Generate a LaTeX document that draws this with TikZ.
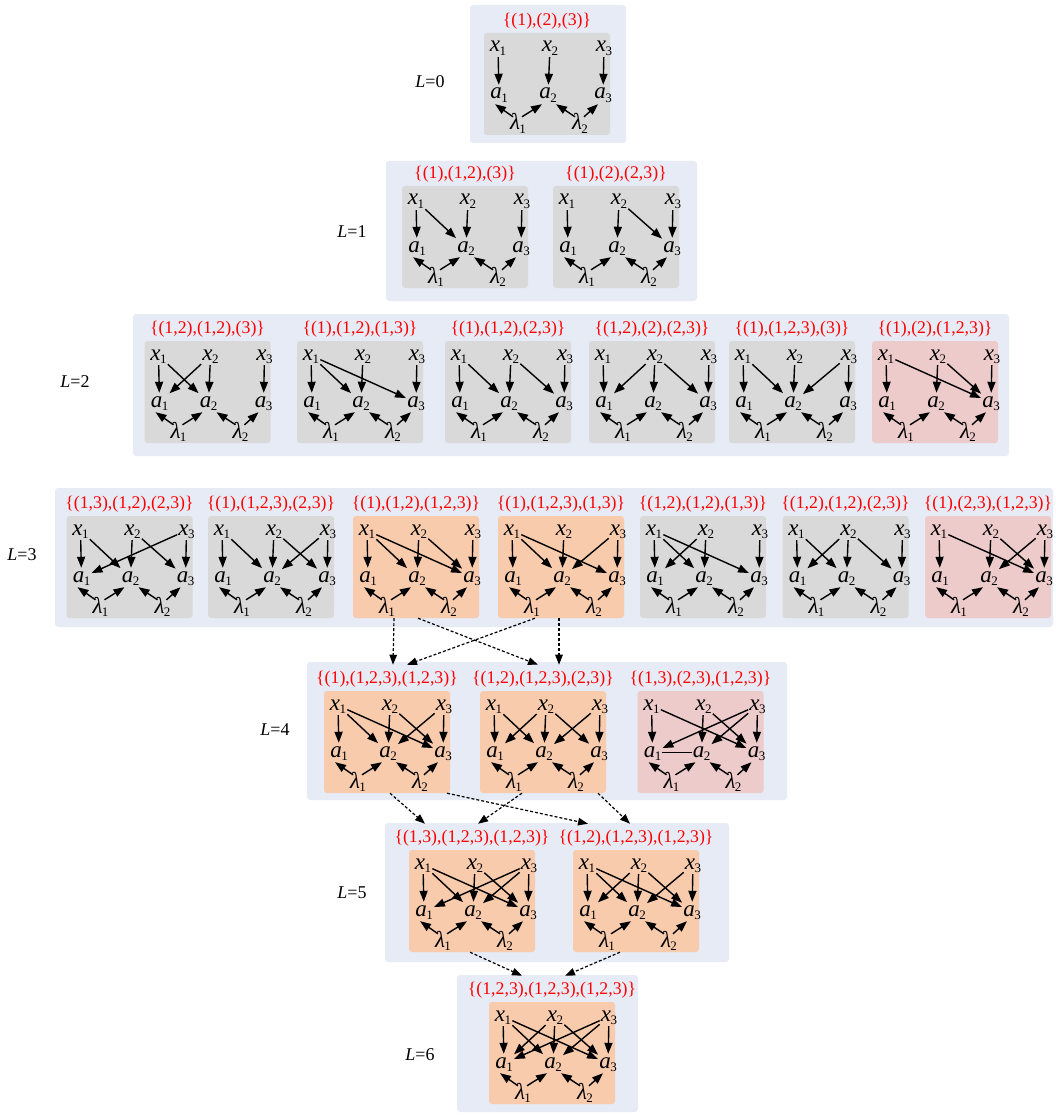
\documentclass[tikz,border=0pt]{standalone}
\usepackage{fontspec}
\setmainfont{Liberation Serif}
\usetikzlibrary{arrows.meta}

\definecolor{panelblue}{HTML}{E6EBF5}
\definecolor{cardgray}{HTML}{D9D9D9}
\definecolor{cardorange}{HTML}{F8CBAD}
\definecolor{cardpink}{HTML}{EDCBCB}

% variable with a small index
\newcommand{\vn}[2]{\textit{#1}\kern-0.5pt{\fontsize{13}{13}\selectfont\raisebox{-3.5pt}{#2}}}

\tikzset{
  panel/.style={fill=panelblue,rounded corners=3pt},
  card/.style={minimum width=126pt,minimum height=102pt,inner sep=0pt,rounded corners=3pt},
  greycard/.style={fill=cardgray},
  peachcard/.style={fill=cardorange},
  pinkcard/.style={fill=cardpink},
  tag/.style={text=red,font=\fontsize{17.8}{17.8}\selectfont,inner sep=1pt},
  var/.style={font=\fontsize{23}{23}\selectfont,inner sep=1pt,text height=13pt,text depth=4pt},
  gvar/.style={var,text height=12pt},
  lev/.style={font=\fontsize{18}{18}\selectfont},
  link/.style={-{Triangle[length=11pt,width=8pt]},line width=1.4pt},
  hop/.style={-{Triangle[length=10pt,width=7.5pt]},line width=1.2pt,dash pattern=on 3pt off 2pt},
}

% #1 name, #2 centre x, #3 top y, #4 fill, #5 tag, #6 x->a links
\newcommand{\gcard}[6]{%
  \node[card,#4] (#1) at (#2,#3+51) {};
  \node[tag] (#1t) at (#2,#3-12) {#5};
  \node[var] (#1x1) at (#2-49,#3+14.5) {\vn{x}{1}};
  \node[var] (#1x2) at (#2+3,#3+14.5) {\vn{x}{2}};
  \node[var] (#1x3) at (#2+57,#3+14.5) {\vn{x}{3}};
  \node[var] (#1a1) at (#2-48,#3+61.5) {\vn{a}{1}};
  \node[var] (#1a2) at (#2+1,#3+61.5) {\vn{a}{2}};
  \node[var] (#1a3) at (#2+56,#3+61.5) {\vn{a}{3}};
  \node[gvar] (#1l1) at (#2-29,#3+93) {\vn{λ}{1}};
  \node[gvar] (#1l2) at (#2+33,#3+93) {\vn{λ}{2}};
  \foreach \p/\q in {#6} \draw[link] (#1x\p) -- (#1a\q);
  \draw[link] ([xshift=-5pt]#1l1.north) -- ([xshift=-4pt]#1a1.south);
  \draw[link] ([xshift=4pt]#1l1.north) -- ([xshift=-6pt]#1a2.south);
  \draw[link] ([xshift=-5pt]#1l2.north) -- ([xshift=8pt]#1a2.south);
  \draw[link] ([xshift=4pt]#1l2.north) -- ([xshift=-5pt]#1a3.south);
}

\begin{document}
\begin{tikzpicture}[x=1pt,y=-1pt]
\useasboundingbox (0,0) rectangle (1055,1115);

% level panels
\fill[panel] (470,5) rectangle (626,143);
\fill[panel] (386,161) rectangle (697,301);
\fill[panel] (133,314) rectangle (1009,456);
\fill[panel] (55,488) rectangle (1053,627);
\fill[panel] (307,662) rectangle (787,800);
\fill[panel] (385,823) rectangle (729,962);
\fill[panel] (457,975) rectangle (638,1112);

\node[lev] (lv0) at (430,82) {\textit{L}=0};
\node[lev] (lv1) at (352,232) {\textit{L}=1};
\node[lev] (lv2) at (75,382) {\textit{L}=2};
\node[lev] (lv3) at (22,555) {\textit{L}=3};
\node[lev] (lv4) at (275,730) {\textit{L}=4};
\node[lev] (lv5) at (352,893) {\textit{L}=5};
\node[lev] (lv6) at (420,1055) {\textit{L}=6};

% L=0
\gcard{c0a}{547}{33}{greycard}{\{(1),(2),(3)\}}{1/1,2/2,3/3}
% L=1
\gcard{c1a}{465}{186}{greycard}{\{(1),(1,2),(3)\}}{1/1,1/2,2/2,3/3}
\gcard{c1b}{616}{186}{greycard}{\{(1),(2),(2,3)\}}{1/1,2/2,2/3,3/3}
% L=2
\gcard{c2a}{207.5}{341}{greycard}{\{(1,2),(1,2),(3)\}}{1/1,2/1,1/2,2/2,3/3}
\gcard{c2b}{360}{341}{greycard}{\{(1),(1,2),(1,3)\}}{1/1,1/2,2/2,1/3,3/3}
\gcard{c2c}{508}{341}{greycard}{\{(1),(1,2),(2,3)\}}{1/1,1/2,2/2,2/3,3/3}
\gcard{c2d}{652}{341}{greycard}{\{(1,2),(2),(2,3)\}}{1/1,2/1,2/2,2/3,3/3}
\gcard{c2e}{792}{341}{greycard}{\{(1),(1,2,3),(3)\}}{1/1,1/2,2/2,3/2,3/3}
\gcard{c2f}{935}{341}{pinkcard}{\{(1),(2),(1,2,3)\}}{1/1,2/2,1/3,2/3,3/3}
% L=3
\gcard{c3a}{129.5}{516}{greycard}{\{(1,3),(1,2),(2,3)\}}{1/1,3/1,1/2,2/2,2/3,3/3}
\gcard{c3b}{271}{516}{greycard}{\{(1),(1,2,3),(2,3)\}}{1/1,1/2,2/2,3/2,2/3,3/3}
\gcard{c3c}{416}{516}{peachcard}{\{(1),(1,2),(1,2,3)\}}{1/1,1/2,2/2,1/3,2/3,3/3}
\gcard{c3d}{561}{516}{peachcard}{\{(1),(1,2,3),(1,3)\}}{1/1,1/2,2/2,3/2,1/3,3/3}
\gcard{c3e}{703}{516}{greycard}{\{(1,2),(1,2),(1,3)\}}{1/1,2/1,1/2,2/2,1/3,3/3}
\gcard{c3f}{845.5}{516}{greycard}{\{(1,2),(1,2),(2,3)\}}{1/1,2/1,1/2,2/2,2/3,3/3}
\gcard{c3g}{988}{516}{pinkcard}{\{(1),(2,3),(1,2,3)\}}{1/1,2/2,3/2,1/3,2/3,3/3}
% L=4
\gcard{c4a}{387}{691}{peachcard}{\{(1),(1,2,3),(1,2,3)\}}{1/1,1/2,2/2,3/2,1/3,2/3,3/3}
\gcard{c4b}{543}{691}{peachcard}{\{(1,2),(1,2,3),(2,3)\}}{1/1,2/1,1/2,2/2,3/2,2/3,3/3}
\gcard{c4c}{700.5}{691}{pinkcard}{\{(1,3),(2,3),(1,2,3)\}}{1/1,3/1,2/2,3/2,1/3,2/3,3/3}
\draw[line width=1.1pt] (c4ca1) -- (c4ca2);
% L=5
\gcard{c5a}{472}{850}{peachcard}{\{(1,3),(1,2,3),(1,2,3)\}}{1/1,3/1,1/2,2/2,3/2,1/3,2/3,3/3}
\gcard{c5b}{636}{850}{peachcard}{\{(1,2),(1,2,3),(1,2,3)\}}{1/1,2/1,1/2,2/2,3/2,1/3,2/3,3/3}
% L=6
\gcard{c6a}{552}{1002}{peachcard}{\{(1,2,3),(1,2,3),(1,2,3)\}}{1/1,2/1,3/1,1/2,2/2,3/2,1/3,2/3,3/3}

% dotted hops between levels
\draw[hop] ([xshift=-22pt]c3c.south) -- ([xshift=6pt,yshift=5pt]c4at.north);
\draw[hop] ([xshift=2pt]c3c.south) -- ([xshift=-5pt,yshift=5pt]c4bt.north);
\draw[hop] ([xshift=-26pt]c3d.south) -- ([xshift=20pt,yshift=5pt]c4at.north);
\draw[hop] ([xshift=-2pt]c3d.south) -- ([xshift=16pt,yshift=5pt]c4bt.north);

\draw[hop] ([xshift=3pt]c4a.south) -- ([xshift=-47pt,yshift=5pt]c5at.north);
\draw[hop] ([xshift=60pt]c4a.south) -- ([xshift=-48pt,yshift=5pt]c5bt.north);
\draw[hop] ([xshift=-21pt]c4b.south) -- ([xshift=6pt,yshift=5pt]c5at.north);
\draw[hop] ([xshift=55pt]c4b.south) -- ([xshift=-6pt,yshift=5pt]c5bt.north);

\draw[hop] ([xshift=-2pt]c5a.south) -- ([xshift=-30pt,yshift=5pt]c6at.north);
\draw[hop] ([xshift=-16pt]c5b.south) -- ([xshift=13pt,yshift=5pt]c6at.north);
\end{tikzpicture}
\end{document}
